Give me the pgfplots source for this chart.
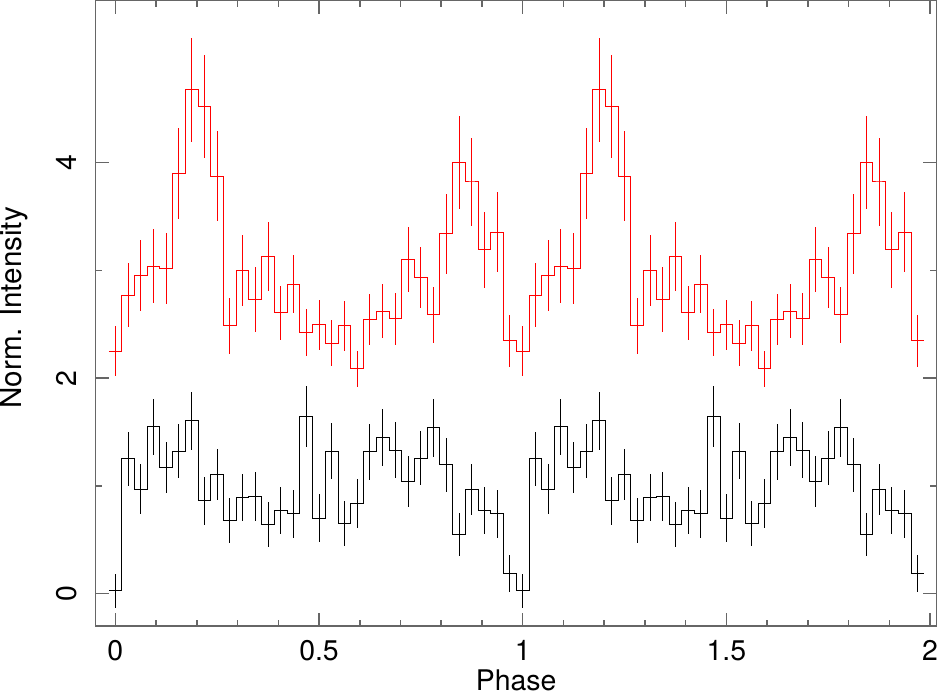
\documentclass[border=0pt]{standalone}
\usepackage{fontspec}
\setmainfont{TeX Gyre Heros}
\usepackage{pgfplots}
\usepackage{pgfplotstable}
\pgfplotsset{compat=1.18}

% folded light curves, 32 bins per cycle, shown twice
% bin -0.5 and 63.5 only close the first and last step
\pgfplotstableread{
bin y err
-0.5 2.25 0
0 2.25 0.23
1 2.77 0.30
2 2.955 0.33
3 3.04 0.34
4 3.02 0.33
5 3.90 0.42
6 4.675 0.48
7 4.52 0.48
8 3.875 0.42
9 2.485 0.26
10 3.00 0.33
11 2.73 0.30
12 3.13 0.32
13 2.605 0.25
14 2.87 0.27
15 2.425 0.22
16 2.495 0.23
17 2.325 0.21
18 2.485 0.23
19 2.085 0.17
20 2.545 0.24
21 2.62 0.25
22 2.55 0.24
23 3.10 0.30
24 2.935 0.28
25 2.59 0.26
26 3.34 0.37
27 4.00 0.43
28 3.82 0.41
29 3.19 0.35
30 3.355 0.37
31 2.345 0.24
32 2.25 0.23
33 2.77 0.30
34 2.955 0.33
35 3.04 0.34
36 3.02 0.33
37 3.90 0.42
38 4.675 0.48
39 4.52 0.48
40 3.875 0.42
41 2.485 0.26
42 3.00 0.33
43 2.73 0.30
44 3.13 0.32
45 2.605 0.25
46 2.87 0.27
47 2.425 0.22
48 2.495 0.23
49 2.325 0.21
50 2.485 0.23
51 2.085 0.17
52 2.545 0.24
53 2.62 0.25
54 2.55 0.24
55 3.10 0.30
56 2.935 0.28
57 2.59 0.26
58 3.34 0.37
59 4.00 0.43
60 3.82 0.41
61 3.19 0.35
62 3.355 0.37
63 2.345 0.24
63.5 2.345 0
}\redtab

\pgfplotstableread{
bin y err
-0.5 0.025 0
0 0.025 0.16
1 1.25 0.25
2 0.97 0.23
3 1.55 0.26
4 1.17 0.24
5 1.32 0.25
6 1.605 0.27
7 0.86 0.22
8 1.105 0.24
9 0.68 0.21
10 0.89 0.22
11 0.90 0.23
12 0.64 0.21
13 0.77 0.22
14 0.74 0.22
15 1.645 0.28
16 0.70 0.22
17 1.32 0.26
18 0.65 0.21
19 0.835 0.23
20 1.315 0.26
21 1.45 0.265
22 1.33 0.26
23 1.04 0.24
24 1.255 0.25
25 1.54 0.27
26 1.195 0.25
27 0.545 0.20
28 0.965 0.24
29 0.77 0.22
30 0.74 0.22
31 0.185 0.17
32 0.025 0.16
33 1.25 0.25
34 0.97 0.23
35 1.55 0.26
36 1.17 0.24
37 1.32 0.25
38 1.605 0.27
39 0.86 0.22
40 1.105 0.24
41 0.68 0.21
42 0.89 0.22
43 0.90 0.23
44 0.64 0.21
45 0.77 0.22
46 0.74 0.22
47 1.645 0.28
48 0.70 0.22
49 1.32 0.26
50 0.65 0.21
51 0.835 0.23
52 1.315 0.26
53 1.45 0.265
54 1.33 0.26
55 1.04 0.24
56 1.255 0.25
57 1.54 0.27
58 1.195 0.25
59 0.545 0.20
60 0.965 0.24
61 0.77 0.22
62 0.74 0.22
63 0.185 0.17
63.5 0.185 0
}\blacktab

\begin{document}
\fontsize{14.2}{17}\selectfont
\begin{tikzpicture}
\begin{axis}[
  scale only axis,
  width=420pt,
  height=312.35pt,
  xmin=-0.0482, xmax=2.0157,
  ymin=-0.301, ymax=5.502,
  xtick={0,0.5,1,1.5,2},
  ytick={0,2,4},
  minor x tick num=4,
  minor y tick num=1,
  tick align=inside,
  major tick length=6.5pt,
  minor tick length=3.25pt,
  axis line style={black!60, line width=0.75pt},
  every tick/.append style={black!60, line width=0.75pt},
  /pgf/number format/assume math mode=true,
  xticklabel style={inner sep=0pt},
  yticklabel style={rotate=90, anchor=south, inner sep=0pt},
  xticklabel shift=6.8pt,
  yticklabel shift=9.2pt,
  xlabel={Phase},
  ylabel={Norm. Intensity},
  every axis x label/.style={at={(axis description cs:0.5,-0.0642)}, anchor=north, inner xsep=0pt, inner ysep=1.5pt},
  every axis y label/.style={at={(axis description cs:-0.0881,0.509)}, rotate=90, anchor=base, inner sep=0pt, font=\fontsize{14.8}{17}\selectfont},
]
\addplot[black, line width=0.5pt, const plot mark mid, mark=none,
  error bars/.cd, y dir=both, y explicit, error mark=none,
  error bar style={line width=0.5pt}]
  table[x expr=\thisrow{bin}/32, y=y, y error=err] {\blacktab};
\addplot[red, line width=0.5pt, const plot mark mid, mark=none,
  error bars/.cd, y dir=both, y explicit, error mark=none,
  error bar style={line width=0.5pt}]
  table[x expr=\thisrow{bin}/32, y=y, y error=err] {\redtab};
\end{axis}
\end{tikzpicture}
\end{document}
